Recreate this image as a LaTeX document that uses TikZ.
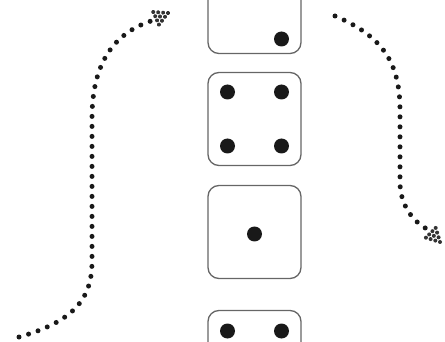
\documentclass[tikz,border=0pt]{standalone}
\begin{document}
\begin{tikzpicture}[x=1pt,y=-1pt,
  die/.style={draw=black!60,line width=1.3pt,rounded corners=11pt,minimum width=93pt,minimum height=93pt,inner sep=0pt},
  pip/.style={circle,fill=black!90,minimum size=15pt,inner sep=0pt},
  dotline/.style={line width=5pt,line cap=round,dash pattern=on 0pt off 10pt,black!90},
  tipdot/.style={fill=black!80}]
\useasboundingbox (0,0) rectangle (445,342);
\tikzset{dottip/.pic={
  \foreach \yy in {-6.9,-2.3,2.3,6.9} \fill[tipdot] (-13,\yy) circle (2pt);
  \foreach \yy in {-4.6,0,4.6} \fill[tipdot] (-8.7,\yy) circle (2pt);
  \foreach \yy in {-2.3,2.3} \fill[tipdot] (-4.3,\yy) circle (2pt);
  \fill[tipdot] (0,0) circle (2pt);
}}
% dice
\node[die] (d1) at (254.5,7) {};
\node[die] (d2) at (254.5,119) {};
\node[die] (d3) at (254.5,232) {};
\node[die] (d4) at (254.5,357) {};
% pips
\node[pip] (p1) at (281.5,39) {};
\node[pip] (p2a) at (227.5,92) {};
\node[pip] (p2b) at (281.5,92) {};
\node[pip] (p2c) at (227.5,146) {};
\node[pip] (p2d) at (281.5,146) {};
\node[pip] (p3) at (254.5,234) {};
\node[pip] (p4a) at (227.5,331) {};
\node[pip] (p4b) at (281.5,331) {};
% connectors
\coordinate (ls) at (19,337);
\coordinate (le) at (151,21);
\coordinate (rs) at (335,16);
\coordinate (re) at (427,229);
\draw[dotline] (ls) .. controls (72,322) and (92,300) .. (92,262) -- (92,118)
  .. controls (92,62) and (115,33) .. (le);
\draw[dotline] (rs) .. controls (382,36) and (400,62) .. (400,110) -- (400,182)
  .. controls (400,206) and (414,222) .. (re);
\pic[rotate=24] at (168,13) {dottip};
\pic[rotate=-45] at (440,242) {dottip};
\end{tikzpicture}
\end{document}
